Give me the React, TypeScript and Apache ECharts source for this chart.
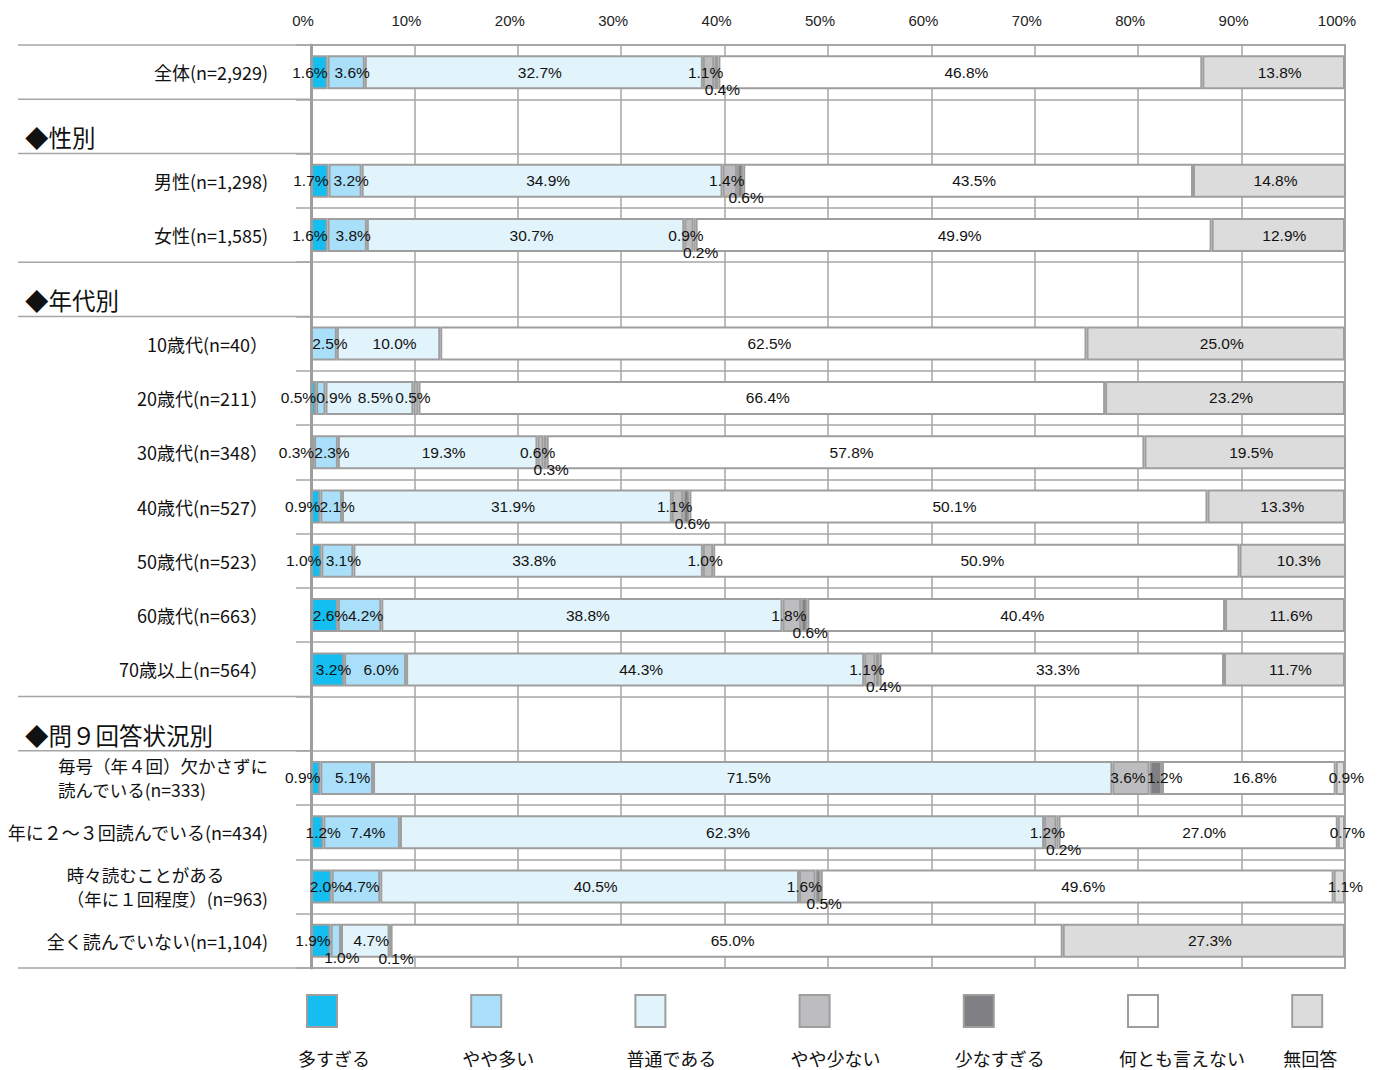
import { useEffect, useRef } from 'react';
import * as echarts from 'echarts';

const CATEGORIES = [
  '全体(n=2,929)',
  '◆性別',
  '男性(n=1,298)',
  '女性(n=1,585)',
  '◆年代別',
  '10歳代(n=40）',
  '20歳代(n=211）',
  '30歳代(n=348）',
  '40歳代(n=527）',
  '50歳代(n=523）',
  '60歳代(n=663）',
  '70歳以上(n=564）',
  '◆問９回答状況別',
  '毎号（年４回）欠かさずに\n読んでいる(n=333)',
  '年に２～３回読んでいる(n=434)',
  '時々読むことがある\n（年に１回程度）(n=963)',
  '全く読んでいない(n=1,104)',
];
const HEADERS = ['◆性別', '◆年代別', '◆問９回答状況別'];

const SERIES_NAMES = ['多すぎる', 'やや多い', '普通である', 'やや少ない', '少なすぎる', '何とも言えない', '無回答'];
const SERIES_COLORS = ['#15bef0', '#aadff9', '#e1f3fb', '#bdbdc0', '#808084', '#ffffff', '#dcdcdc'];

const TOO_MANY = [1.6, null, 1.7, 1.6, null, 0, 0.5, 0.3, 0.9, 1.0, 2.6, 3.2, null, 0.9, 1.2, 2.0, 1.9];
const SOMEWHAT_MANY = [3.6, null, 3.2, 3.8, null, 2.5, 0.9, 2.3, 2.1, 3.1, 4.2, 6.0, null, 5.1, 7.4, 4.7, 1.0];
const NORMAL = [32.7, null, 34.9, 30.7, null, 10.0, 8.5, 19.3, 31.9, 33.8, 38.8, 44.3, null, 71.5, 62.3, 40.5, 4.7];
const SOMEWHAT_FEW = [1.1, null, 1.4, 0.9, null, 0, 0.5, 0.6, 1.1, 1.0, 1.8, 1.1, null, 3.6, 1.2, 1.6, 0.1];
const TOO_FEW = [0.4, null, 0.6, 0.2, null, 0, 0, 0.3, 0.6, 0, 0.6, 0.4, null, 1.2, 0.2, 0.5, 0];
const CANT_SAY = [46.8, null, 43.5, 49.9, null, 62.5, 66.4, 57.8, 50.1, 50.9, 40.4, 33.3, null, 16.8, 27.0, 49.6, 65.0];
const NO_ANSWER = [13.8, null, 14.8, 12.9, null, 25.0, 23.2, 19.5, 13.3, 10.3, 11.6, 11.7, null, 0.9, 0.7, 1.1, 27.3];

const SERIES_VALUES = [TOO_MANY, SOMEWHAT_MANY, NORMAL, SOMEWHAT_FEW, TOO_FEW, CANT_SAY, NO_ANSWER];

// rows whose tiny labels are pushed below the bar, by series index
const LABEL_BELOW_ROWS: Record<number, string[]> = {
  1: ['全く読んでいない(n=1,104)'],
  3: ['全く読んでいない(n=1,104)'],
};

const GRID_LEFT = 311;
const GRID_RIGHT = 38;
const GRID_TOP = 45;
const GRID_BOTTOM = 102;
const LINE_COLOR = '#a6a6a6';
const NUM_FONT = '"Liberation Sans", Arial, sans-serif';
const JP_FONT = '"Noto Sans CJK JP", "Noto Sans", sans-serif';

const isHeader = (i: number) => i >= 0 && i < CATEGORIES.length && HEADERS.includes(CATEGORIES[i]);

function labelFor(s: number, row: number, v: number) {
  const base: any = {
    show: true,
    formatter: (p: any) => `${Number(p.value).toFixed(1)}%`,
    fontFamily: NUM_FONT,
    fontSize: 15.5,
    color: '#111',
    position: 'inside',
    offset: [6, 0],
  };
  const below = { position: ['50%', '100%'], align: 'center', verticalAlign: 'middle', offset: [6, 0] };
  const cat = CATEGORIES[row];
  if (LABEL_BELOW_ROWS[s] && LABEL_BELOW_ROWS[s].includes(cat)) return { ...base, ...below };
  if (s === 0) {
    const next = (SOMEWHAT_MANY[row] ?? 0) as number;
    if (v < 2 && next < 6) {
      return { ...base, position: ['100%', '50%'], align: 'right', verticalAlign: 'middle', offset: [0, 0] };
    }
  }
  if (s === 1 && v < 1.5) {
    return { ...base, position: ['0%', '50%'], align: 'left', verticalAlign: 'middle', offset: [0, 0] };
  }
  if (s === 3) return { ...base, offset: [-3, 0] };
  if (s === 4) {
    if (v < 1) return { ...base, ...below };
    return { ...base, offset: [9, 0] };
  }
  return base;
}

function buildSeries() {
  return SERIES_NAMES.map((name, s) => ({
    name,
    type: 'bar',
    stack: 'total',
    barWidth: 34,
    itemStyle: { color: SERIES_COLORS[s], borderColor: '#9e9e9e', borderWidth: 2 },
    emphasis: { disabled: true },
    data: SERIES_VALUES[s].map((v, row) => {
      if (v === null || v === 0) return '-';
      return { value: v, label: labelFor(s, row, v as number) };
    }),
  }));
}

function yLabel(v: string) {
  if (HEADERS.includes(v)) return `{h|${v}}`;
  if (v.includes('\n')) return v.split('\n').map((l) => `{l|${l}}`).join('\n');
  return v;
}

export default function App() {
  const ref = useRef<HTMLDivElement>(null);
  useEffect(() => {
    const el = ref.current!;
    const chart = echarts.init(el, null, { renderer: 'svg' });
    const option: any = {
      animation: false,
      backgroundColor: '#ffffff',
      grid: {
        left: GRID_LEFT,
        right: GRID_RIGHT,
        top: GRID_TOP,
        bottom: GRID_BOTTOM,
        show: true,
        borderColor: LINE_COLOR,
        borderWidth: 2,
        backgroundColor: 'transparent',
      },
      xAxis: {
        type: 'value',
        position: 'top',
        min: 0,
        max: 100,
        interval: 10,
        axisLine: { show: false },
        axisTick: { show: false },
        axisLabel: {
          formatter: '{value}%',
          fontFamily: NUM_FONT,
          fontSize: 15,
          color: '#222',
          margin: 17,
          padding: [0, 16, 0, 0],
        },
        splitLine: { show: true, lineStyle: { color: LINE_COLOR, width: 1.5 } },
      },
      yAxis: {
        type: 'category',
        inverse: true,
        data: CATEGORIES,
        axisLine: { show: true, lineStyle: { color: '#9e9e9e', width: 3 } },
        axisTick: { show: true, length: 15, interval: 0, lineStyle: { color: LINE_COLOR, width: 1.5 } },
        splitLine: { show: true, interval: 0, lineStyle: { color: LINE_COLOR, width: 1.5 } },
        axisLabel: {
          interval: 0,
          margin: 43,
          fontFamily: JP_FONT,
          fontSize: 18,
          color: '#111',
          formatter: yLabel,
          rich: {
            h: { fontFamily: JP_FONT, fontSize: 23.5, color: '#111', width: 243, align: 'left', padding: [22, 0, 0, 0] },
            l: { fontFamily: JP_FONT, fontSize: 17.5, color: '#111', align: 'left', lineHeight: 24 },
          },
        },
      },
      series: buildSeries(),
    };
    chart.setOption(option);

    const n = CATEGORIES.length;
    const c0 = chart.convertToPixel({ yAxisIndex: 0 }, CATEGORIES[0]) as number;
    const c1 = chart.convertToPixel({ yAxisIndex: 0 }, CATEGORIES[1]) as number;
    const band = c1 - c0;
    const graphics: any[] = [];
    for (let b = 0; b <= n; b++) {
      const long = b === 0 || b === n || isHeader(b - 1) || isHeader(b);
      if (!long) continue;
      const y = c0 - band / 2 + b * band;
      graphics.push({
        type: 'line',
        silent: true,
        shape: { x1: 18, y1: y, x2: GRID_LEFT, y2: y },
        style: { stroke: LINE_COLOR, lineWidth: 1.5 },
      });
    }
    const LEG_X = 307;
    const LEG_STEP = 164.2;
    SERIES_NAMES.forEach((name, i) => {
      const x = LEG_X + i * LEG_STEP;
      graphics.push({
        type: 'rect',
        silent: true,
        shape: { x, y: 995, width: 30, height: 32 },
        style: { fill: SERIES_COLORS[i], stroke: '#9e9e9e', lineWidth: 2 },
      });
      graphics.push({
        type: 'text',
        silent: true,
        x: x - 9,
        y: 1058,
        style: {
          text: name,
          fontFamily: JP_FONT,
          fontSize: 18,
          fill: '#111',
          textAlign: 'left',
          textVerticalAlign: 'middle',
        },
      });
    });
    chart.setOption({ graphic: graphics });
    return () => chart.dispose();
  }, []);
  return <div ref={ref} style={{ position: 'fixed', left: 0, top: 0, width: 1383, height: 1070 }} />;
}
